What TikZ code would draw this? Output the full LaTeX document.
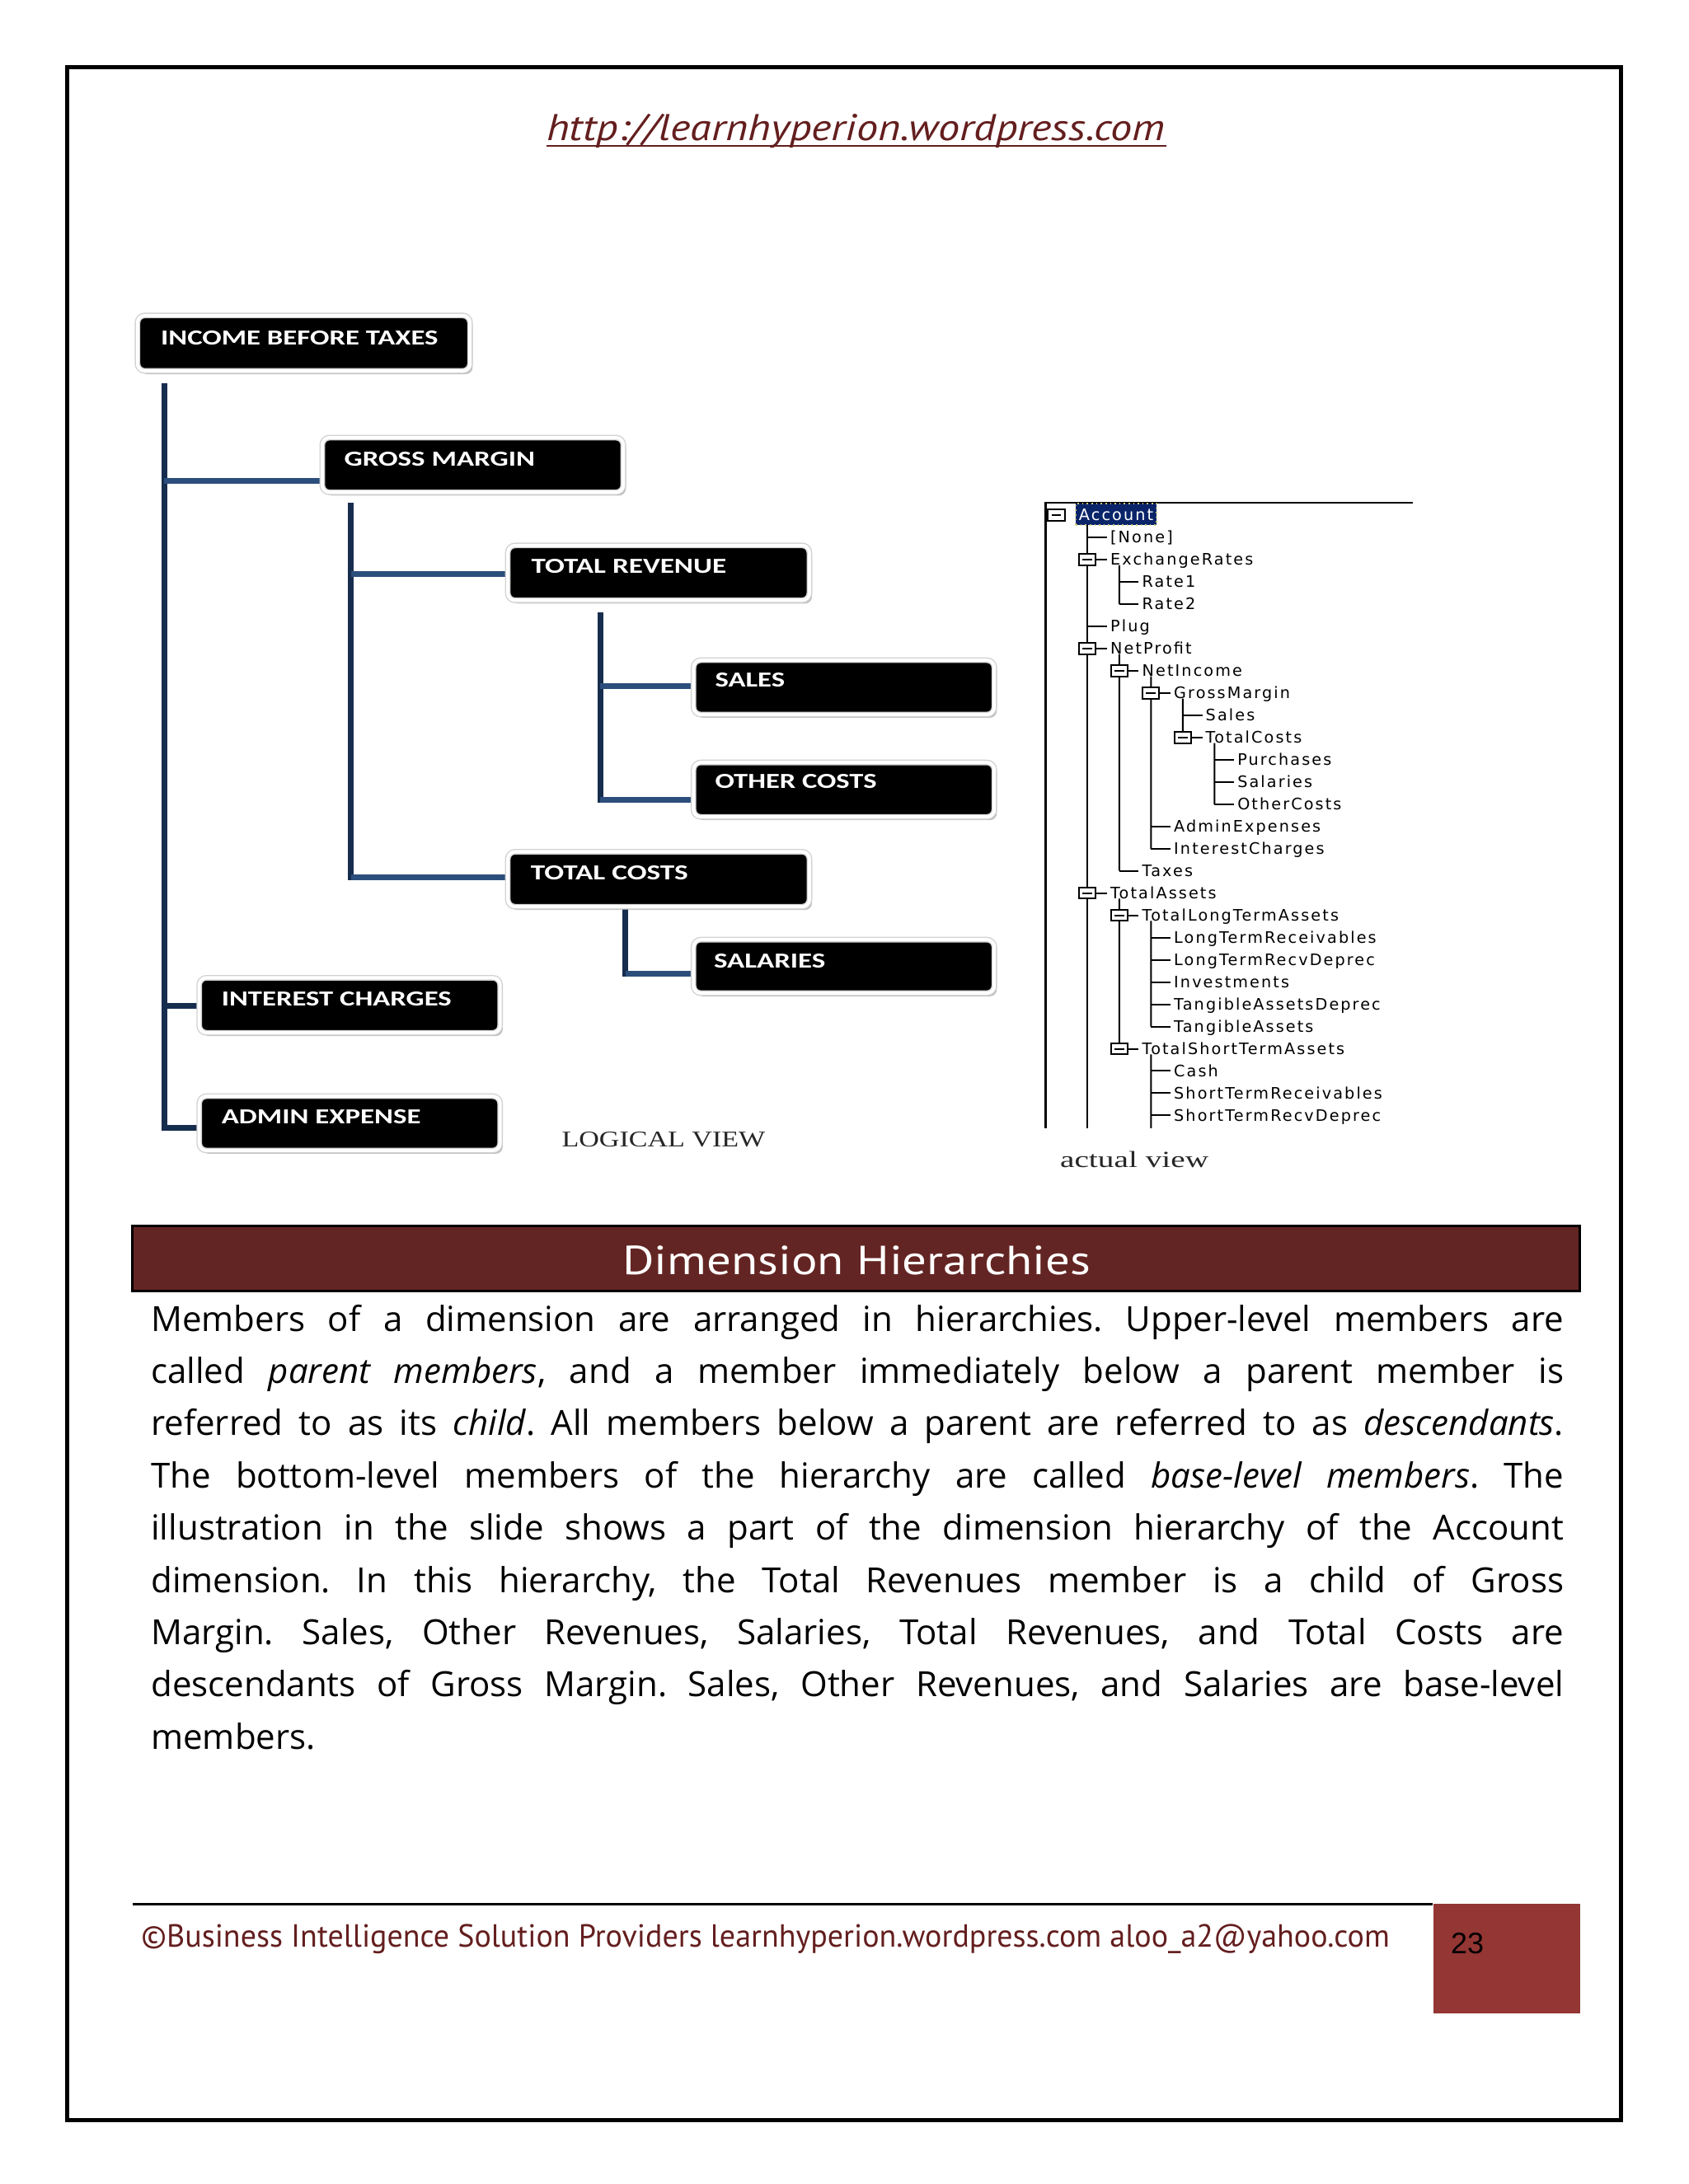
\documentclass[tikz,border=0pt]{standalone}
\usepackage{fontspec}
\usepackage{graphicx}
\usetikzlibrary{calc,fit,shadows}
\setmainfont{PT Sans}
\newfontfamily\bodyfont{Open Sans}
\newfontfamily\boxfont{Carlito}
\newfontfamily\treefont[LetterSpace=11]{DejaVu Sans}
\newfontfamily\serifont{Liberation Serif}
\newfontfamily\arialfont{Liberation Sans}
\frenchspacing
\newlength\pxu \setlength\pxu{0.42245pt}
\newlength\linew \setlength\linew{428.4pt}
\newsavebox\jbox
\newcommand\jline[1]{\sbox\jbox{#1}\ifdim\wd\jbox>\linew\resizebox{\linew}{\height}{#1}\else\makebox[\linew][s]{#1}\fi}
\newcommand\fitw[2]{\resizebox{#1\pxu}{\height}{#2}}
\definecolor{urlred}{RGB}{100,30,30}
\definecolor{titlered}{RGB}{99,37,35}
\definecolor{pnred}{RGB}{148,54,52}
\definecolor{navy}{RGB}{23,45,78}
\definecolor{lblue}{RGB}{44,78,124}
\definecolor{accblue}{RGB}{10,36,106}
\pgfdeclarelayer{bottom}
\pgfdeclarelayer{background}
\pgfsetlayers{bottom,background,main}
\newcommand\trow[4]{%
  \pgfmathsetmacro\trX{780.6+22.8*(#2-1)}%
  \pgfmathsetmacro\trY{369.9+15.96*#1}%
  \coordinate (#3-v) at (\trX,\trY);
  \node[tlab] (#3) at (\trX+16,\trY+4) {#4};
  \draw[tline] (#3-v) -- ++(14,0);
}
\newcommand\tbox[1]{%
  \draw[tline, fill=white] ($(#1-v)+(-6,-4)$) rectangle ($(#1-v)+(6,4)$);
  \draw[tline] ($(#1-v)+(-3.5,0)$) -- ($(#1-v)+(3.5,0)$);}
\begin{document}
\begin{tikzpicture}[x=0.42245pt, y=-0.42245pt,
  lbox/.style={fill=black, rounded corners=2.2pt, draw=gray!35, double=white, double distance=1pt, line width=0.35pt,
    drop shadow={shadow xshift=0.8pt, shadow yshift=-1pt, opacity=0.25, fill=black}, inner sep=0pt},
  blabel/.style={text=white, font=\boxfont\bfseries\fontsize{6.5}{7}\selectfont, inner sep=0pt, anchor=base west},
  vline/.style={draw=navy, line width=1.75pt, line cap=rect},
  hline/.style={draw=lblue, line width=1.75pt},
  tline/.style={draw=black, line width=0.5pt},
  tlab/.style={font=\treefont\fontsize{4.8}{5}\selectfont, inner sep=0pt, anchor=base west},
  body/.style={anchor=base west, inner sep=0pt, font=\bodyfont\fontsize{10.5}{12}\selectfont}]
\begin{pgfonlayer}{bottom}
\fill[white] (0,0) rectangle (1212,1568);
\end{pgfonlayer}
\useasboundingbox (0,0) rectangle (1212,1568);
% page border
\draw[line width=1.2pt] (48,48) rectangle (1163.4,1522.1);
% url
\node[anchor=base west, inner sep=0pt, text=urlred, font=\itshape\fontsize{11.3}{13}\selectfont] (url) at (392,100.6) {\fitw{444}{http://learnhyperion.wordpress.com}};
\draw[urlred, line width=0.6pt] ($(url.base west)+(0,4)$) -- ($(url.base east)+(0,4)$);
% logical view boxes
\node[lbox, fit={(98.7,226.5) (337.4,266.3)}] (ibt) {};
\node[blabel] (ibt-t) at (115,247.6) {\fitw{199}{INCOME BEFORE TAXES}};
\node[lbox, fit={(231.3,314.2) (447.4,353.5)}] (gm) {};
\node[blabel] (gm-t) at (246.6,334.4) {\fitw{137}{GROSS MARGIN}};
\node[lbox, fit={(364.5,391.6) (581,431)}] (tr) {};
\node[blabel] (tr-t) at (381,411.3) {\fitw{140}{TOTAL REVENUE}};
\node[lbox, fit={(497.8,474) (713.7,513)}] (sales) {};
\node[blabel] (sales-t) at (512.9,493.3) {\fitw{50}{SALES}};
\node[lbox, fit={(497.8,547.4) (713.7,586.5)}] (oc) {};
\node[blabel] (oc-t) at (512.9,566) {\fitw{116}{OTHER COSTS}};
\node[lbox, fit={(364.5,611.5) (581,651)}] (tc) {};
\node[blabel] (tc-t) at (380.5,631.5) {\fitw{113}{TOTAL COSTS}};
\node[lbox, fit={(497.8,674.6) (713.7,713)}] (sal) {};
\node[blabel] (sal-t) at (512,694.7) {\fitw{80}{SALARIES}};
\node[lbox, fit={(143,702) (359,741.5)}] (ic) {};
\node[blabel] (ic-t) at (158.6,722) {\fitw{165}{INTEREST CHARGES}};
\node[lbox, fit={(143,787) (359,826)}] (ae) {};
\node[blabel] (ae-t) at (158.6,806.6) {\fitw{143}{ADMIN EXPENSE}};
% connectors
\coordinate (j0) at (118,277); \coordinate (j1) at (118,345);
\coordinate (j2) at (118,722); \coordinate (j3) at (118,810);
\coordinate (k0) at (252,363); \coordinate (k1) at (252,412); \coordinate (k2) at (252,630);
\coordinate (m0) at (431,441.5); \coordinate (m1) at (431,492.5); \coordinate (m2) at (431,574);
\coordinate (n0) at (449,653); \coordinate (n1) at (449,699);
\begin{pgfonlayer}{background}
\draw[vline] (j0) -- (j3);
\draw[hline] (j1) -- (j1 -| gm.west);
\draw[vline] (j2) -- (j2 -| ic.west);
\draw[vline] (j3) -- (j3 -| ae.west);
\draw[vline] (k0) -- (k2);
\draw[hline] (k1) -- (k1 -| tr.west);
\draw[hline] (k2) -- (k2 -| tc.west);
\draw[vline] (m0) -- (m2);
\draw[hline] (m1) -- (m1 -| sales.west);
\draw[hline] (m2) -- (m2 -| oc.west);
\draw[vline] (n0) -- (n1);
\draw[hline] (n1) -- (n1 -| sal.west);
\end{pgfonlayer}
\node[anchor=base west, inner sep=0pt, font=\serifont\fontsize{6.8}{8}\selectfont, text=black!85] (lv) at (402.8,823.6) {\fitw{146}{LOGICAL VIEW}};
% actual view tree
\coordinate (pan-a) at (750.5,361); \coordinate (pan-b) at (1014,361);
\coordinate (tbot) at (0,810);
\draw[tline, line width=0.6pt] (pan-b) -- (pan-a) -- (pan-a |- tbot);
\coordinate (acc-v) at (758.2,369.9);
\coordinate (acc-c) at (780.6,377);
\draw[tline] (acc-c) -- (acc-c |- tbot);
\trow{1}{1}{none}{[None]}
\trow{2}{1}{exch}{ExchangeRates}
\trow{3}{2}{rate1}{Rate1}
\trow{4}{2}{rate2}{Rate2}
\trow{5}{1}{plug}{Plug}
\trow{6}{1}{netp}{NetProfit}
\trow{7}{2}{neti}{NetIncome}
\trow{8}{3}{grossm}{GrossMargin}
\trow{9}{4}{salesb}{Sales}
\trow{10}{4}{totc}{TotalCosts}
\trow{11}{5}{purch}{Purchases}
\trow{12}{5}{salar}{Salaries}
\trow{13}{5}{othc}{OtherCosts}
\trow{14}{3}{admin}{AdminExpenses}
\trow{15}{3}{intc}{InterestCharges}
\trow{16}{2}{taxes}{Taxes}
\trow{17}{1}{tota}{TotalAssets}
\trow{18}{2}{tlta}{TotalLongTermAssets}
\trow{19}{3}{ltr}{LongTermReceivables}
\trow{20}{3}{ltrd}{LongTermRecvDeprec}
\trow{21}{3}{inv}{Investments}
\trow{22}{3}{tad}{TangibleAssetsDeprec}
\trow{23}{3}{ta}{TangibleAssets}
\trow{24}{2}{tsta}{TotalShortTermAssets}
\trow{25}{3}{cash}{Cash}
\trow{26}{3}{str}{ShortTermReceivables}
\trow{27}{3}{strd}{ShortTermRecvDeprec}
\draw[tline] ($(exch-v)+(22.8,4)$) -- (rate2-v);
\draw[tline] ($(netp-v)+(22.8,4)$) -- (taxes-v);
\draw[tline] ($(tota-v)+(22.8,4)$) -- (tsta-v);
\draw[tline] ($(neti-v)+(22.8,4)$) -- (intc-v);
\draw[tline] ($(grossm-v)+(22.8,4)$) -- (totc-v);
\draw[tline] ($(totc-v)+(22.8,4)$) -- (othc-v);
\draw[tline] ($(tlta-v)+(22.8,4)$) -- (ta-v);
\draw[tline] ($(tsta-v)+(22.8,4)$) -- (strd-v |- tbot);
\tbox{acc}\tbox{exch}\tbox{netp}\tbox{neti}\tbox{grossm}\tbox{totc}\tbox{tota}\tbox{tlta}\tbox{tsta}
\node[fill=accblue, draw={rgb,255:red,200;green,200;blue,120}, densely dotted, line width=0.4pt, fit={(772.3,361.4) (830.3,376.8)}, inner sep=0pt] (acc-hl) {};
\node[tlab, text=white] (acc) at (774,373.9) {Account};
\node[anchor=base west, inner sep=0pt, font=\serifont\fontsize{7}{8}\selectfont, text=black!85] (av) at (760.5,838.4) {\fitw{106.5}{actual view}};
% title bar
\node[draw=black, line width=0.8pt, fill=titlered, fit={(95,880) (1134,927)}, inner sep=0pt] (bar) {};
\node[anchor=base, inner sep=0pt, text=white, font=\fontsize{12.3}{14}\selectfont] (title) at (615,915) {\fitw{336}{Dimension Hierarchies}};
% body
\node[body] (b1) at (108,955.7) {\jline{Members of a dimension are arranged in hierarchies. Upper-level members are}};
\node[body] (b2) at (108,993.2) {\jline{called \textit{parent members}, and a member immediately below a parent member is}};
\node[body] (b3) at (108,1030.7) {\jline{referred to as its \textit{child}. All members below a parent are referred to as \textit{descendants}.}};
\node[body] (b4) at (108,1068.2) {\jline{The bottom-level members of the hierarchy are called \textit{base-level members}. The}};
\node[body] (b5) at (108,1105.7) {\jline{illustration in the slide shows a part of the dimension hierarchy of the Account}};
\node[body] (b6) at (108,1143.2) {\jline{dimension. In this hierarchy, the Total Revenues member is a child of Gross}};
\node[body] (b7) at (108,1180.7) {\jline{Margin. Sales, Other Revenues, Salaries, Total Revenues, and Total Costs are}};
\node[body] (b8) at (108,1218.2) {\jline{descendants of Gross Margin. Sales, Other Revenues, and Salaries are base-level}};
\node[body] (b9) at (108,1255.7) {members.};
% footer
\node[fill=pnred, fit={(1029,1367) (1134,1445.7)}, inner sep=0pt] (pn) {};
\coordinate (fl) at (95,1367);
\draw[line width=0.8pt] (fl) -- (fl -| pn.west);
\node[anchor=base west, inner sep=0pt, text=urlred, font=\fontsize{9.7}{11}\selectfont] (foot) at (101,1397.8) {\fitw{896}{©Business Intelligence Solution Providers learnhyperion.wordpress.com aloo\_a2@yahoo.com}};
\node[anchor=base west, inner sep=0pt, font=\arialfont\fontsize{9}{10}\selectfont] (pnum) at (1041,1402.6) {23};
\end{tikzpicture}
\end{document}
